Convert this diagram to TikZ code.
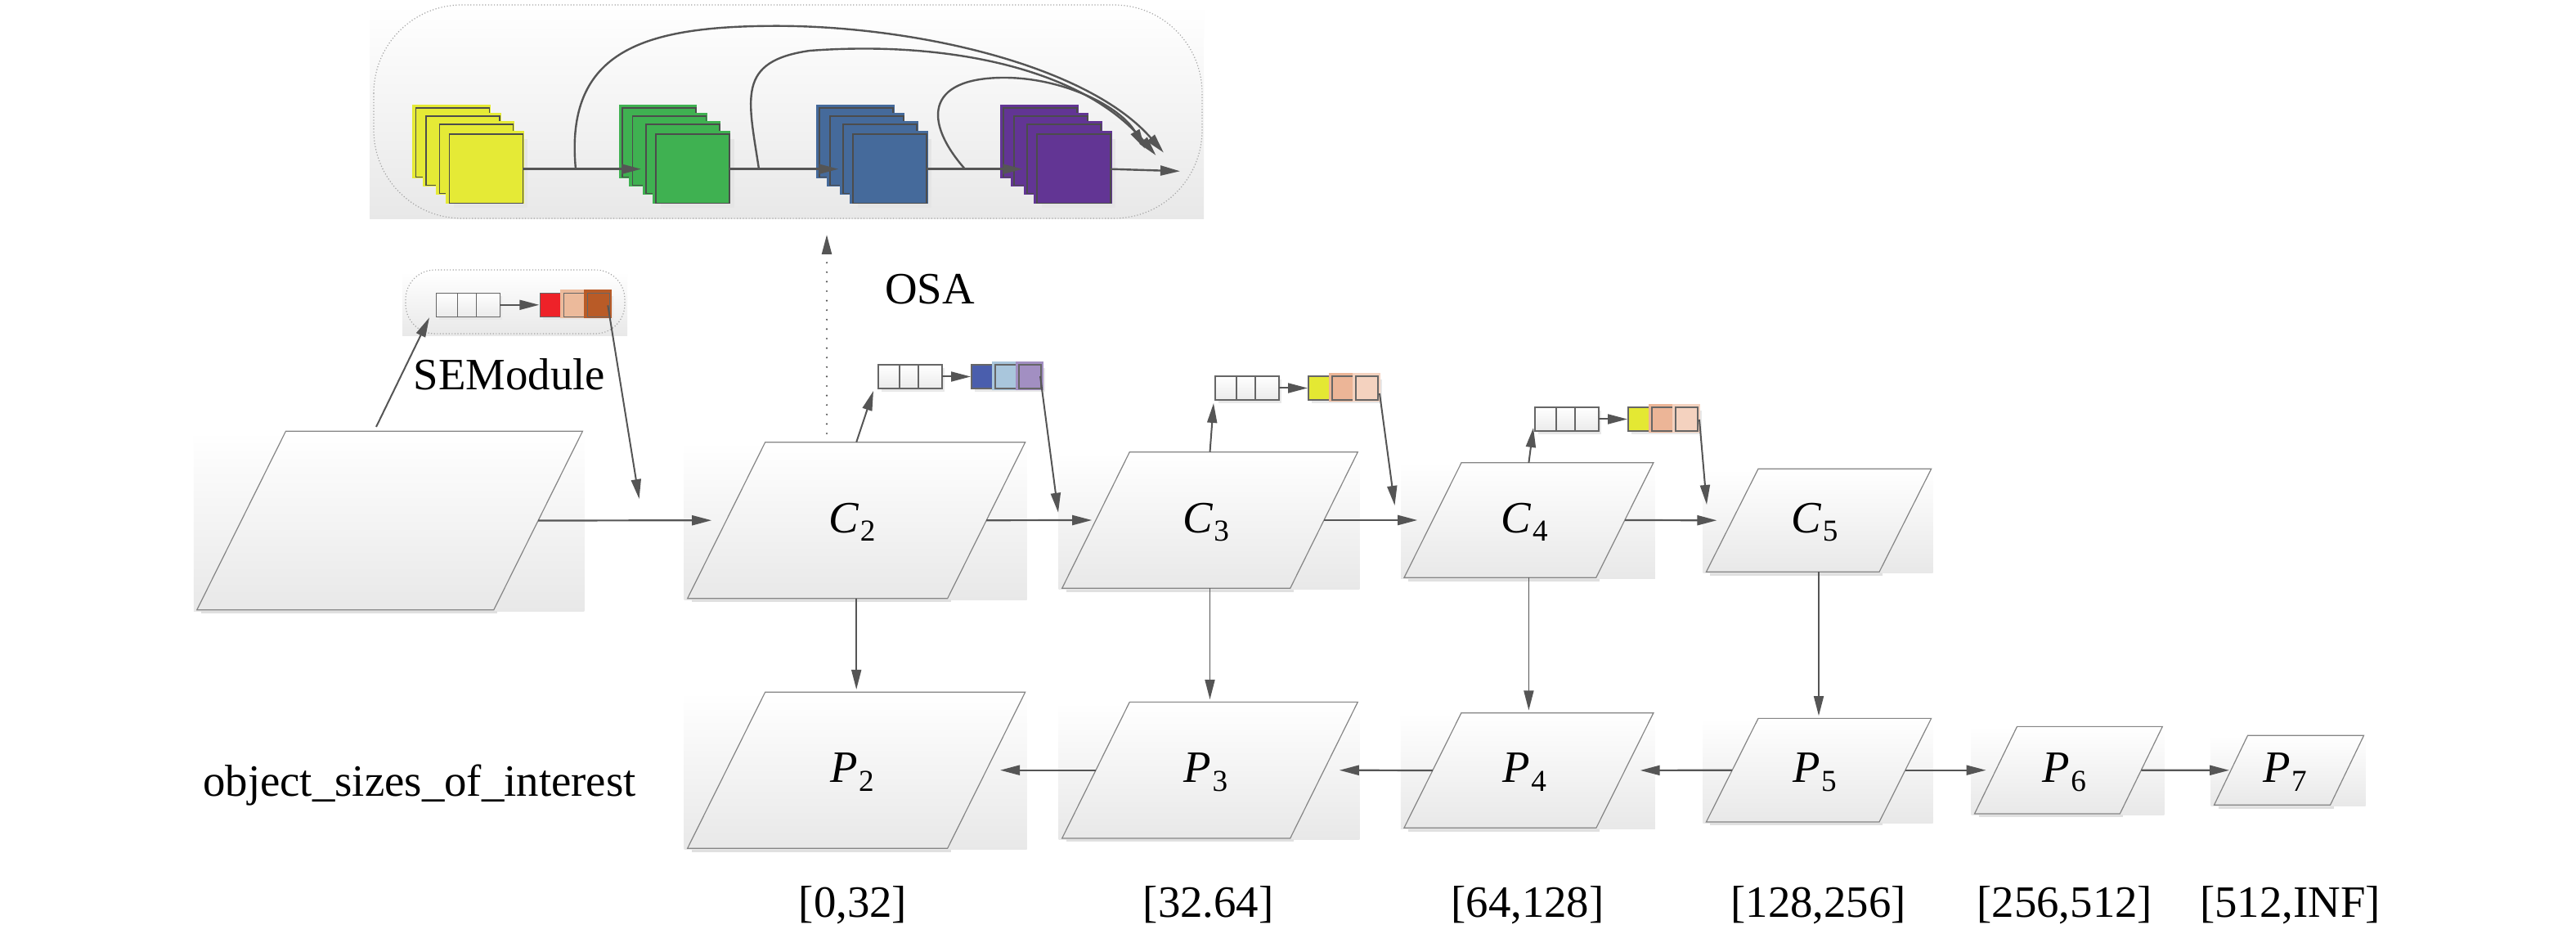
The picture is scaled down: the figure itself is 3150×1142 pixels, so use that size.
\documentclass[tikz,border=0pt]{standalone}
\usepackage{fontspec}
\setmainfont{Liberation Serif}
\newfontfamily\tnr{Liberation Serif}
\usetikzlibrary{arrows.meta}
\definecolor{lc}{HTML}{555555}
\definecolor{pline}{HTML}{858585}
\definecolor{yel}{HTML}{E5EA36}
\definecolor{grn}{HTML}{3FB151}
\definecolor{blu}{HTML}{456A9B}
\definecolor{pur}{HTML}{623594}
\definecolor{sered}{HTML}{EE2229}
\definecolor{sepeach}{HTML}{ECBA9B}
\definecolor{sebrown}{HTML}{B95B27}
\definecolor{seblue}{HTML}{4A5EAD}
\definecolor{selblue}{HTML}{A9C6DC}
\definecolor{selav}{HTML}{A28FC2}
\definecolor{seyel}{HTML}{E4E833}
\definecolor{speach}{HTML}{ECB597}
\definecolor{slpeach}{HTML}{F4D2BF}
\tikzset{
  conn/.style={draw=lc, line width=0.55pt, -{Triangle[length=6pt,width=3pt]}},
  vconn/.style={draw=lc, line width=0.4pt, -{Triangle[length=6pt,width=3pt]}},
  sconn/.style={draw=lc, line width=0.5pt, -{Triangle[length=6pt,width=3pt]}},
  oconn/.style={draw=lc, line width=0.6pt, -{Triangle[length=6pt,width=3pt]}},
  dotconn/.style={draw=lc, line width=0.6pt, line cap=round, dash pattern=on 0pt off 2.9pt, -{Triangle[length=6pt,width=3pt]}},
  paraline/.style={draw=pline, line width=0.3pt},
  grad/.style={top color=white, bottom color=black!9},
  dotborder/.style={draw=black!35, line width=0.3pt, dash pattern=on 0.3pt off 0.6pt},
  lbl/.style={font=\tnr\fontsize{13.7pt}{16pt}\selectfont, inner sep=0pt},
  stackline/.style={draw=black!70, line width=0.4pt},
  greysq/.style={draw=black!60, line width=0.3pt, top color=white, bottom color=black!8},
  colsq/.style={draw=black!60, line width=0.3pt},
}
% parallelogram: name, cx, cy, half height, half width, half slant
\newcommand{\mypara}[6]{%
  \path[grad] (#2-#5-#6-4,#3-#4) rectangle (#2+#5+#6+2,#3+#4+1.6);
  \draw[black!12,line width=0.75pt] (#2-#5-#6+5,#3+#4+3) -- (#2+#5-#6+4,#3+#4+3);
  \draw[paraline] (#2-#5+#6,#3-#4) -- (#2+#5+#6,#3-#4) -- (#2+#5-#6,#3+#4) -- (#2-#5-#6,#3+#4) -- cycle;
  \coordinate (#1-l) at (#2-#5,#3);
  \coordinate (#1-r) at (#2+#5,#3);
  \coordinate (#1-t) at (#2,#3-#4);
  \coordinate (#1-b) at (#2,#3+#4);
}
% stack of feature maps: name, x, y, colour
\newcommand{\mystack}[4]{%
  \fill[black!10] (#2+41+6,#3+31.7+6) rectangle (#2+41+96,#3+31.7+90);
  \foreach \dx/\dy in {0/0,12.7/10,29/20,41/31.7}{
    \fill[#4] (#2+\dx-4,#3+\dy-4) rectangle (#2+\dx+91.7,#3+\dy+85.4);
    \draw[stackline] (#2+\dx,#3+\dy) rectangle (#2+\dx+90,#3+\dy+84.4);
  }
  \coordinate (#1-r) at (#2+131,206.7);
  \coordinate (#1-tip) at (#2+23.3,206.7);
}
% SE module: name, x0, y0, shift, c1, c2, c3
\newcommand{\mysemod}[7]{%
  \fill[black!9] (#2+4,#3+4) rectangle (#2+81,#3+33);
  \draw[greysq] (#2,#3) rectangle +(29,29);
  \draw[greysq] (#2+26,#3) rectangle +(29,29);
  \draw[greysq] (#2+49,#3) rectangle +(29,29);
  \coordinate (#1-a) at (#2+78,#3+14.5);
  \coordinate (#1-b) at (#2+113+#4,#3+14.5);
  \draw[sconn] (#1-a) -- (#1-b);
  \fill[black!9] (#2+118+#4,#3+4) rectangle (#2+204+#4,#3+33);
  \draw[colsq,fill=#5] (#2+114+#4,#3) rectangle +(27,29);
  \fill[#6] (#2+139+#4,#3-4) rectangle (#2+170+#4,#3+31);
  \draw[colsq,fill=#6] (#2+143+#4,#3) rectangle +(27,29);
  \fill[#7] (#2+168+#4,#3-4) rectangle (#2+202+#4,#3+31);
  \draw[colsq,fill=#7] (#2+172+#4,#3) rectangle +(27,29);
}
\newcommand{\mycp}[2]{\textit{#1}\kern0.3pt\raisebox{-2.6pt}{\fontsize{9.3pt}{10pt}\selectfont #2}}
\begin{document}
\begin{tikzpicture}[x=0.25pt,y=-0.25pt]
\useasboundingbox (0,0) rectangle (3150,1142);
\fill[white] (0,0) rectangle (3150,1142);

% ---------- OSA block ----------
\path[grad] (452,6) rectangle (1472,268);
\draw[dotborder, rounded corners=27pt] (457,6) rectangle (1470,267);
\mystack{ys}{508.3}{132.3}{yel}
\mystack{gs}{760.7}{132.3}{grn}
\mystack{bs}{1002}{132.3}{blu}
\mystack{ps}{1227}{132.3}{pur}
\coordinate (osa-end) at (1443,209.3);
\draw[oconn] (ys-r) -- (gs-tip);
\draw[oconn] (gs-r) -- (bs-tip);
\draw[oconn] (bs-r) -- (ps-tip);
\draw[oconn] (ps-r) -- (osa-end);
\coordinate (ka1) at (704,206.7);
\coordinate (ka2) at (1423,186.7);
\coordinate (kb1) at (928,206.7);
\coordinate (kb2) at (1413.5,190);
\coordinate (kc1) at (1180,206.7);
\coordinate (kc2) at (1400,181.7);
\draw[oconn] (ka1) .. controls (690,60) and (790,32) .. (949,31.7) .. controls (1120,31.7) and (1330,80) .. (ka2);
\draw[oconn] (kb1) .. controls (915,120) and (900,75) .. (990,62) .. controls (1150,50) and (1320,80) .. (kb2);
\draw[oconn] (kc1) .. controls (1130,150) and (1130,95) .. (1228,95) .. controls (1300,95) and (1370,130) .. (kc2);

\coordinate (osa-b) at (1011,287);
\coordinate (c2-dot) at (1011,530);
\draw[dotconn] (c2-dot) -- (osa-b);
\node[lbl, anchor=base] (osa) at (1137,371.7) {OSA};

% ---------- parallelograms ----------
\mypara{in}{476.6}{636.5}{109.2}{181.5}{54.3}
\mypara{c2}{1047.2}{636.2}{95.5}{159}{47.5}
\mypara{c3}{1479.5}{636}{83.3}{139.5}{41.3}
\mypara{c4}{1869.4}{636}{70.2}{117.4}{35}
\mypara{c5}{2224}{636.3}{63}{105.8}{31.8}
\mypara{p2}{1047.2}{941.7}{95.5}{159}{47.5}
\mypara{p3}{1479.5}{941.7}{83.3}{139.5}{41.3}
\mypara{p4}{1869.4}{942}{70.3}{117.5}{35}
\mypara{p5}{2224}{941.7}{63.3}{105.8}{31.8}
\mypara{p6}{2529.4}{941.7}{53.3}{88.9}{26}
\mypara{p7}{2799}{941.8}{42.5}{71}{20.5}

\node[lbl,anchor=base] (c2) at (1042,651.5) {\mycp{C}{2}};
\node[lbl,anchor=base] (c3) at (1474.5,651.5) {\mycp{C}{3}};
\node[lbl,anchor=base] (c4) at (1864.4,651.5) {\mycp{C}{4}};
\node[lbl,anchor=base] (c5) at (2219,651.5) {\mycp{C}{5}};
\node[lbl,anchor=base] (p2) at (1042,957) {\mycp{P}{2}};
\node[lbl,anchor=base] (p3) at (1474.5,957) {\mycp{P}{3}};
\node[lbl,anchor=base] (p4) at (1864.4,957) {\mycp{P}{4}};
\node[lbl,anchor=base] (p5) at (2219,957) {\mycp{P}{5}};
\node[lbl,anchor=base] (p6) at (2524.4,957) {\mycp{P}{6}};
\node[lbl,anchor=base] (p7) at (2794,957) {\mycp{P}{7}};

% ---------- SE modules ----------
\path[grad] (492,333) rectangle (767,411);
\draw[dotborder, rounded corners=9pt] (496,330) rectangle (764,408);
\mysemod{se0}{533.3}{358.3}{13}{sered}{sepeach}{sebrown}
\node[lbl,anchor=base] (semod) at (623,476.7) {SEModule};
\mysemod{se2}{1074}{446}{0}{seblue}{selblue}{selav}
\mysemod{se3}{1486}{460}{0}{seyel}{speach}{slpeach}
\mysemod{se4}{1877}{498}{0}{seyel}{speach}{slpeach}

\coordinate (in-up) at (460,522);
\coordinate (se0-in) at (525,388.3);
\coordinate (se0-out) at (743.3,373.3);
\coordinate (c2-se) at (781.6,610);
\coordinate (se2-in) at (1068,478);
\coordinate (se2-out) at (1272,460);
\coordinate (c3-se) at (1294,626.7);
\coordinate (se3-in) at (1484,493);
\coordinate (se3-out) at (1687,481);
\coordinate (c4-se) at (1705.5,618);
\coordinate (se4-in) at (1875,523);
\coordinate (se4-out) at (2078,513);
\coordinate (c5-se) at (2087,617);
\draw[sconn] (in-up) -- (se0-in);
\draw[sconn] (se0-out) -- (c2-se);
\draw[sconn] (c2-t) -- (se2-in);
\draw[sconn] (se2-out) -- (c3-se);
\draw[sconn] (c3-t) -- (se3-in);
\draw[sconn] (se3-out) -- (c4-se);
\draw[sconn] (c4-t) -- (se4-in);
\draw[sconn] (se4-out) -- (c5-se);

% ---------- main connectors ----------
\draw[conn, shorten >=4.5pt] (in-r) -- (c2-l);
\draw[conn, shorten >=1.2pt] (c2-r) -- (c3-l);
\draw[conn, shorten >=4.7pt] (c3-r) -- (c4-l);
\draw[conn, shorten >=4.7pt] (c4-r) -- (c5-l);
\draw[vconn, shorten >=0.8pt] (c2-b) -- (p2-t);
\draw[vconn, shorten >=0.8pt] (c3-b) -- (p3-t);
\draw[vconn, shorten >=0.8pt] (c4-b) -- (p4-t);
\draw[vconn, shorten >=0.8pt] (c5-b) -- (p5-t);
\draw[conn, shorten >=4.2pt] (p3-l) -- (p2-r);
\draw[conn, shorten >=4.7pt] (p4-l) -- (p3-r);
\draw[conn, shorten >=4.7pt] (p5-l) -- (p4-r);
\draw[conn, shorten >=3pt] (p5-r) -- (p6-l);
\draw[conn, shorten >=0.5pt] (p6-r) -- (p7-l);

% ---------- texts ----------
\node[lbl,anchor=base] (osi) at (513,974) {object\_sizes\_of\_interest};
\node[lbl,anchor=base] (r2) at (1043,1121) {[0,32]};
\node[lbl,anchor=base] (r3) at (1477.7,1121) {[32.64]};
\node[lbl,anchor=base] (r4) at (1868,1121) {[64,128]};
\node[lbl,anchor=base] (r5) at (2223.7,1121) {[128,256]};
\node[lbl,anchor=base] (r6) at (2524.8,1121) {[256,512]};
\node[lbl,anchor=base] (r7) at (2800.5,1121) {[512,INF]};
\end{tikzpicture}
\end{document}
